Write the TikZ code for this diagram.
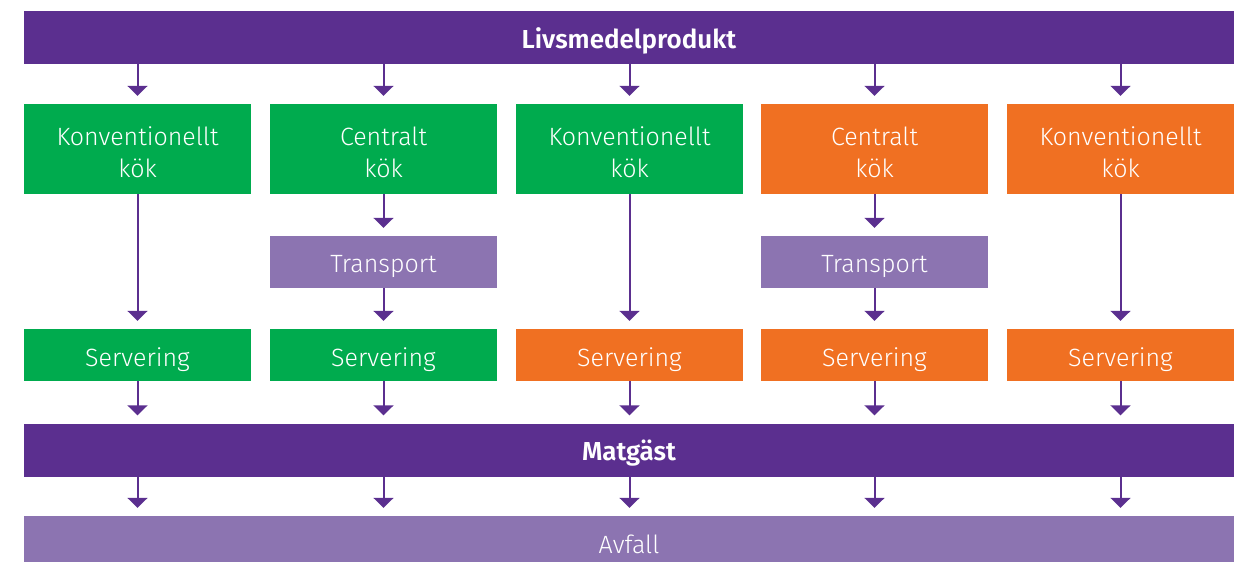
\documentclass[tikz,border=0pt]{standalone}
\usepackage{fontspec}
\setmainfont{Fira Sans Light}[BoldFont={Fira Sans SemiBold}]
\usetikzlibrary{arrows.meta}
\definecolor{darkpurple}{HTML}{5B2F8F}
\definecolor{lightpurple}{HTML}{8C74B1}
\definecolor{kgreen}{HTML}{00AB4E}
\definecolor{korange}{HTML}{F07022}
\tikzset{
  box/.style={rectangle, inner sep=0pt, minimum width=227pt},
  kok/.style={box, minimum height=90pt},
  serv/.style={box, minimum height=52pt},
  bar/.style={rectangle, inner sep=0pt, minimum width=1210pt},
  txt/.style={text=white, inner sep=0pt, align=center,
    font=\fontsize{25}{32}\selectfont},
  head/.style={text=white, inner sep=0pt,
    font=\fontsize{26}{30}\selectfont\bfseries},
  flow/.style={draw=darkpurple, line width=2pt,
    -{Triangle[width=20pt,length=10pt]}, shorten >=8pt}
}
\begin{document}
\begin{tikzpicture}[x=1pt,y=-1pt]
\useasboundingbox (0,0) rectangle (1238,562);
% top and bottom bars
\node[bar, fill=darkpurple, minimum height=53pt,
  label={[head, yshift=-3pt]center:Livsmedelprodukt}] (prod) at (629,37.5) {};
\node[bar, fill=darkpurple, minimum height=53pt,
  label={[head, yshift=-3pt]center:Matgäst}] (gast) at (629,450) {};
\node[bar, fill=lightpurple, minimum height=46pt,
  label={[txt, yshift=-5pt]center:Avfall}] (avfall) at (629,539) {};
% kitchens
\node[kok, fill=kgreen, label={[txt, yshift=-3pt]center:{Konventionellt\\kök}}] (k1) at (137.5,149) {};
\node[kok, fill=kgreen, label={[txt, yshift=-3pt]center:{Centralt\\kök}}] (k2) at (383.5,149) {};
\node[kok, fill=kgreen, label={[txt, yshift=-3pt]center:{Konventionellt\\kök}}] (k3) at (629.5,149) {};
\node[kok, fill=korange, label={[txt, yshift=-3pt]center:{Centralt\\kök}}] (k4) at (874.5,149) {};
\node[kok, fill=korange, label={[txt, yshift=-3pt]center:{Konventionellt\\kök}}] (k5) at (1120.5,149) {};
% transport
\node[serv, fill=lightpurple, label={[txt, yshift=-4pt]center:Transport}] (t2) at (383.5,262) {};
\node[serv, fill=lightpurple, label={[txt, yshift=-4pt]center:Transport}] (t4) at (874.5,262) {};
% serving
\node[serv, fill=kgreen, label={[txt, yshift=-5pt]center:Servering}] (s1) at (137.5,355) {};
\node[serv, fill=kgreen, label={[txt, yshift=-5pt]center:Servering}] (s2) at (383.5,355) {};
\node[serv, fill=korange, label={[txt, yshift=-5pt]center:Servering}] (s3) at (629.5,355) {};
\node[serv, fill=korange, label={[txt, yshift=-5pt]center:Servering}] (s4) at (874.5,355) {};
\node[serv, fill=korange, label={[txt, yshift=-5pt]center:Servering}] (s5) at (1120.5,355) {};
% connectors
\foreach \i in {1,...,5} {
  \draw[flow] (k\i.north |- prod.south) -- (k\i.north);
  \draw[flow] (s\i.south) -- (s\i.south |- gast.north);
  \draw[flow] (s\i.south |- gast.south) -- (s\i.south |- avfall.north);
}
\draw[flow] (k1.south) -- (s1.north);
\draw[flow] (k3.south) -- (s3.north);
\draw[flow] (k5.south) -- (s5.north);
\draw[flow] (k2.south) -- (t2.north);
\draw[flow] (t2.south) -- (s2.north);
\draw[flow] (k4.south) -- (t4.north);
\draw[flow] (t4.south) -- (s4.north);
\end{tikzpicture}
\end{document}
